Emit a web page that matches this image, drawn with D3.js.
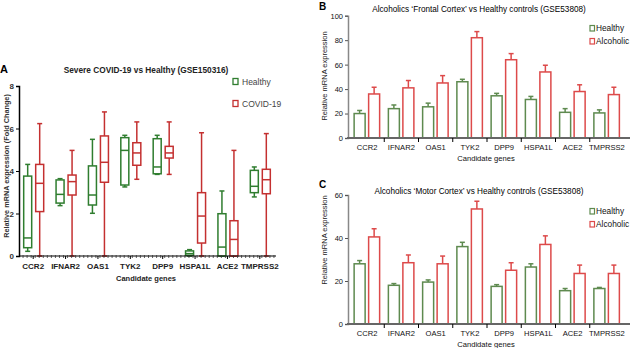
<!DOCTYPE html>
<html>
<head>
<meta charset="utf-8">
<script src="https://cdn.jsdelivr.net/npm/d3@7"></script>
<style>
body { margin: 0; background: #fff; }
svg { font-family: "Liberation Sans", Arial, sans-serif; }
</style>
</head>
<body>
<div class="fig"></div>
<script>
var genes = ["CCR2", "IFNAR2", "OAS1", "TYK2", "DPP9", "HSPA1L", "ACE2", "TMPRSS2"];

// panel A (GSE150316), box stats per gene: min, q1, median, q3, max
var healthyBox = [
    [0.22, 0.39, 0.85, 3.76, 4.31],
    [2.37, 2.49, 2.90, 3.58, 3.64],
    [2.01, 2.40, 2.87, 4.24, 5.49],
    [3.25, 3.34, 4.97, 5.57, 5.68],
    [3.84, 3.87, 4.19, 5.52, 5.68],
    [0.00, 0.03, 0.11, 0.24, 0.30],
    [0.00, 0.00, 0.42, 1.99, 3.06],
    [2.78, 2.98, 3.28, 4.03, 4.19]
];
var covidBox = [
    [0.00, 2.09, 3.42, 4.31, 6.23],
    [0.00, 2.87, 3.50, 3.81, 4.97],
    [0.00, 3.47, 4.41, 5.65, 6.78],
    [3.61, 4.27, 4.85, 5.33, 6.31],
    [3.84, 4.61, 4.85, 5.16, 6.31],
    [0.00, 0.61, 1.88, 2.98, 5.80],
    [0.00, 0.00, 0.78, 1.66, 4.97],
    [0.00, 2.93, 3.59, 4.08, 5.76]
];
var foldTicks = [0, 2, 4, 6, 8];

// panel B (GSE53808 frontal cortex), mean and error
var frontalHealthy = [20, 24, 25.5, 46, 34.5, 31.5, 21, 20.5];
var frontalHealthyErr = [2.5, 3, 3, 2, 2, 2.5, 3, 2.5];
var frontalAlcoholic = [36, 41, 45, 82, 64, 54, 38, 35.5];
var frontalAlcoholicErr = [5.5, 6, 6, 5, 5, 5.5, 5.5, 6];
var frontalTicks = [0, 20, 40, 60, 80, 100];

// panel C (GSE53808 motor cortex), mean and error
var motorHealthy = [28, 18, 19.5, 36, 17.5, 26.5, 15.5, 16.5];
var motorHealthyErr = [1.5, 0.8, 1, 2, 0.8, 1.5, 1, 0.5];
var motorAlcoholic = [40.5, 28.5, 28, 53.5, 25, 37, 23.5, 23.5];
var motorAlcoholicErr = [3.8, 3.6, 3.6, 3.6, 3.5, 4, 3.9, 3.9];
var motorTicks = [0, 20, 40, 60];

var greenCol = "#2f7d2f";
var redCol = "#c43030";
var barGreen = "#5e8a4f";
var barRed = "#dd4a4a";

var svg = d3.select(".fig").append("svg").attr("width", 632).attr("height", 348);

/**
    Panel A: box plots, healthy vs covid
 */
function drawBoxPanel(svg) {
    var x = d3.scaleBand().domain(genes).range([17, 276]);
    var y = d3.scaleLinear().domain([0, 8]).range([256, 86]);
    var g = svg.append("g");

    g.append("text").attr("x", 0).attr("y", 73).attr("font-size", 11).attr("font-weight", "bold").text("A");
    g.append("text").attr("x", 146).attr("y", 73).attr("text-anchor", "middle")
        .attr("font-size", 8.3).attr("font-weight", "bold").attr("fill", "#222")
        .text("Severe COVID-19 vs Healthy (GSE150316)");

    // boxes
    function box(stats, cx, color) {
        var w = 8;
        g.append("line").attr("x1", cx).attr("x2", cx).attr("y1", y(stats[0])).attr("y2", y(stats[4]))
            .attr("stroke", color).attr("stroke-width", 1.5);
        [stats[0], stats[4]].forEach(function (v) {
            g.append("line").attr("x1", cx - 2.5).attr("x2", cx + 2.5).attr("y1", y(v)).attr("y2", y(v))
                .attr("stroke", color).attr("stroke-width", 1.5);
        });
        g.append("rect").attr("x", cx - w / 2).attr("y", y(stats[3]))
            .attr("width", w).attr("height", Math.max(y(stats[1]) - y(stats[3]), 1))
            .attr("fill", "#fff").attr("stroke", color).attr("stroke-width", 1.5);
        g.append("line").attr("x1", cx - w / 2).attr("x2", cx + w / 2).attr("y1", y(stats[2])).attr("y2", y(stats[2]))
            .attr("stroke", color).attr("stroke-width", 1.5);
    }
    genes.forEach(function (gene, i) {
        var c = x(gene) + x.bandwidth() / 2;
        box(healthyBox[i], c - 5.5, greenCol);
        box(covidBox[i], c + 6.5, redCol);
    });

    // y axis
    var ya = g.append("g").attr("transform", "translate(19,0)")
        .call(d3.axisLeft(y).tickValues(foldTicks).tickSize(3).tickPadding(2).tickFormat(d3.format("d")));
    ya.select(".domain").attr("stroke", "#000").attr("stroke-width", 1.5);
    ya.selectAll("text").attr("font-size", 8).attr("font-weight", "bold").attr("fill", "#333");

    // x axis with minor ticks
    var xa = g.append("g").attr("transform", "translate(0,256)")
        .call(d3.axisBottom(x).tickSize(3).tickPadding(4));
    xa.select(".domain").attr("d", "M19,0H276").attr("stroke", "#000").attr("stroke-width", 1.2);
    xa.selectAll("text").attr("font-size", 8).attr("font-weight", "bold").attr("fill", "#222");
    var step = x.step() / 8;
    for (var m = 19 + step; m < 276; m += step) {
        g.append("line").attr("x1", m).attr("x2", m).attr("y1", 255).attr("y2", 258)
            .attr("stroke", "#333").attr("stroke-width", 0.8);
    }

    g.append("text").attr("x", 146).attr("y", 281).attr("text-anchor", "middle")
        .attr("font-size", 7.5).attr("font-weight", "bold").attr("fill", "#222").text("Candidate genes");
    g.append("text").attr("transform", "translate(9,166) rotate(-90)").attr("text-anchor", "middle")
        .attr("font-size", 7.3).attr("font-weight", "bold").attr("fill", "#333")
        .text("Relative mRNA expression (Fold Change)");

    // legend
    var leg = [["Healthy", greenCol, 82], ["COVID-19", redCol, 104]];
    leg.forEach(function (l) {
        g.append("rect").attr("x", 233).attr("y", l[2] - 3.5).attr("width", 5).attr("height", 6)
            .attr("fill", "#fff").attr("stroke", l[1]).attr("stroke-width", 1.3);
        g.append("text").attr("x", 242).attr("y", l[2] + 3).attr("font-size", 8.5).attr("fill", "#444").text(l[0]);
    });
}

/**
    Panels B and C: paired bars with upper error bars
 */
function drawBarPanel(svg, p) {
    var x = d3.scaleBand().domain(genes).range([350, 624]);
    var y = d3.scaleLinear().domain([0, p.yMax]).range([p.bottom, p.top]);
    var g = svg.append("g");

    g.append("text").attr("x", 319).attr("y", p.letterY).attr("font-size", 10).attr("font-weight", "bold").text(p.letter);
    g.append("text").attr("x", 479).attr("y", p.titleY).attr("text-anchor", "middle")
        .attr("font-size", 8.2).attr("fill", "#000").text(p.title);

    function bar(v, err, left, color) {
        var w = 11;
        var cx = left + w / 2;
        g.append("line").attr("x1", cx).attr("x2", cx).attr("y1", y(v)).attr("y2", y(v + err))
            .attr("stroke", color).attr("stroke-width", 1.5);
        g.append("line").attr("x1", cx - 2.5).attr("x2", cx + 2.5).attr("y1", y(v + err)).attr("y2", y(v + err))
            .attr("stroke", color).attr("stroke-width", 1.5);
        g.append("rect").attr("x", left).attr("y", y(v)).attr("width", w).attr("height", p.bottom - y(v))
            .attr("fill", "#fff").attr("stroke", color).attr("stroke-width", 1.5);
    }
    genes.forEach(function (gene, i) {
        var c = x(gene) + x.bandwidth() / 2;
        bar(p.healthy[i], p.healthyErr[i], c - 13, barGreen);
        bar(p.alc[i], p.alcErr[i], c + 1.5, barRed);
    });

    var ya = g.append("g").attr("transform", "translate(348,0)")
        .call(d3.axisLeft(y).tickValues(p.ticks).tickSize(3).tickPadding(2));
    ya.select(".domain").attr("stroke", "#888").attr("stroke-width", 1.5);
    ya.selectAll(".tick line").attr("stroke", "#555");
    ya.selectAll("text").attr("font-size", 7.5).attr("fill", "#111");

    // x axis: line plus boundary ticks between categories
    g.append("line").attr("x1", 347).attr("x2", 630).attr("y1", p.bottom).attr("y2", p.bottom)
        .attr("stroke", "#666").attr("stroke-width", 2);
    genes.slice(1).forEach(function (gene) {
        g.append("line").attr("x1", x(gene)).attr("x2", x(gene)).attr("y1", p.bottom).attr("y2", p.bottom + 4)
            .attr("stroke", "#000").attr("stroke-width", 1);
    });
    genes.forEach(function (gene) {
        g.append("text").attr("x", x(gene) + x.bandwidth() / 2).attr("y", p.bottom + 12)
            .attr("text-anchor", "middle").attr("font-size", 7.6).attr("fill", "#111").text(gene);
    });
    g.append("text").attr("x", 486).attr("y", p.bottom + 23).attr("text-anchor", "middle")
        .attr("font-size", 7.6).attr("fill", "#111").text("Candidate genes");
    g.append("text").attr("transform", "translate(327," + p.yTitle + ") rotate(-90)").attr("text-anchor", "middle")
        .attr("font-size", 7.5).attr("fill", "#222").text("Relative mRNA expression");

    var leg = [["Healthy", barGreen, p.legendY], ["Alcoholic", barRed, p.legendY + 13]];
    leg.forEach(function (l) {
        g.append("rect").attr("x", 590).attr("y", l[2] - 5.5).attr("width", 4.5).attr("height", 5.5)
            .attr("fill", "#fff").attr("stroke", l[1]).attr("stroke-width", 1.2);
        g.append("text").attr("x", 596).attr("y", l[2]).attr("font-size", 8.3).attr("fill", "#111").text(l[0]);
    });
}

drawBoxPanel(svg);
drawBarPanel(svg, {
    letter: "B", letterY: 10, titleY: 11.5,
    title: "Alcoholics \u2018Frontal Cortex\u2019 vs Healthy controls (GSE53808)",
    yMax: 100, ticks: frontalTicks, top: 15.7, bottom: 138, yTitle: 76, legendY: 31,
    healthy: frontalHealthy, healthyErr: frontalHealthyErr,
    alc: frontalAlcoholic, alcErr: frontalAlcoholicErr
});
drawBarPanel(svg, {
    letter: "C", letterY: 188, titleY: 194,
    title: "Alcoholics \u2018Motor Cortex\u2019 vs Healthy controls (GSE53808)",
    yMax: 60, ticks: motorTicks, top: 195, bottom: 324, yTitle: 240, legendY: 214,
    healthy: motorHealthy, healthyErr: motorHealthyErr,
    alc: motorAlcoholic, alcErr: motorAlcoholicErr
});
</script>
</body>
</html>
